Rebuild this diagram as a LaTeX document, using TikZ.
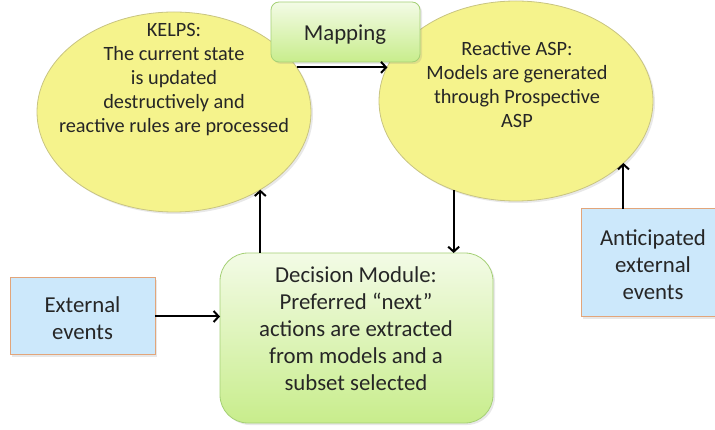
\documentclass[tikz,border=0pt]{standalone}
\usepackage{fontspec}
\setmainfont{Carlito}
\usetikzlibrary{shapes.geometric,arrows.meta,shadows}
\definecolor{ellfill}{RGB}{245,243,140}
\definecolor{elldraw}{RGB}{200,196,130}
\definecolor{grtop}{RGB}{243,251,230}
\definecolor{grbot}{RGB}{200,237,140}
\definecolor{grdraw}{RGB}{165,208,118}
\definecolor{blfill}{RGB}{204,232,251}
\definecolor{bldraw}{RGB}{226,165,122}
\tikzset{
  ell/.style={ellipse, draw=elldraw, line width=0.8pt, fill=ellfill, inner sep=0pt, outer sep=0pt,
    minimum width=274pt, minimum height=200pt,
    drop shadow={opacity=0.18, shadow xshift=2pt, shadow yshift=-2pt}},
  grbox/.style={rectangle, rounded corners=#1, draw=grdraw, line width=0.8pt, top color=grtop, bottom color=grbot,
    inner sep=0pt, outer sep=0pt,
    drop shadow={opacity=0.18, shadow xshift=2pt, shadow yshift=-2pt}},
  blbox/.style={rectangle, draw=bldraw, line width=1pt, fill=blfill, inner sep=0pt, outer sep=0pt,
    drop shadow={opacity=0.18, shadow xshift=2pt, shadow yshift=-2pt}},
  etext/.style={align=center, font=\fontsize{20.3}{24}\selectfont, inner sep=0pt, text=black!85},
  btext/.style={align=center, font=\fontsize{22.8}{27}\selectfont, inner sep=0pt, text=black!85},
  conn/.style={line width=2pt, -{Straight Barb[length=5pt,width=11pt]}},
}
\begin{document}
\begin{tikzpicture}[x=1pt,y=-1pt]
\useasboundingbox (0,0) rectangle (715,430);
% ellipses
\node[ell] (kelps) at (174,112) {};
\node[etext] (kelpst) at (174,80) {KELPS:\\The current state\\is updated\\destructively and\\reactive rules are processed};
\node[ell] (rasp) at (516,101) {};
\node[etext] (raspt) at (517,85) {Reactive ASP:\\Models are generated\\through Prospective\\ASP};
% mapping
\node[grbox=8pt, minimum width=149pt, minimum height=60pt] (map) at (345.5,32) {};
\node[btext] (mapt) at (345,35) {Mapping};
% decision
\node[grbox=28pt, minimum width=273pt, minimum height=170pt] (dec) at (356.5,338) {};
\node[btext] (dect) at (356,329) {Decision Module:\\Preferred “next”\\actions are extracted\\from models and a\\subset selected};
% external
\node[blbox, minimum width=145pt, minimum height=77pt] (ext) at (82.5,316.5) {};
\node[btext] (extt) at (82.5,318.5) {External\\events};
% anticipated
\node[blbox, minimum width=136pt, minimum height=108pt] (ant) at (649,263) {};
\node[btext] (antt) at (653,265) {Anticipated\\external\\events};
% connectors
\draw[conn] (kelps.20.2) -- (kelps.20.2 -| rasp.165.6);
\draw[conn] (dec.north -| kelps.-42.2) -- (kelps.-42.2);
\draw[conn] (rasp.-125.4) -- (rasp.-125.4 |- dec.north);
\draw[conn] (ant.north -| rasp.-30.9) -- (rasp.-30.9);
\draw[conn] (ext.east) -- (ext.east -| dec.west);
\end{tikzpicture}
\end{document}
